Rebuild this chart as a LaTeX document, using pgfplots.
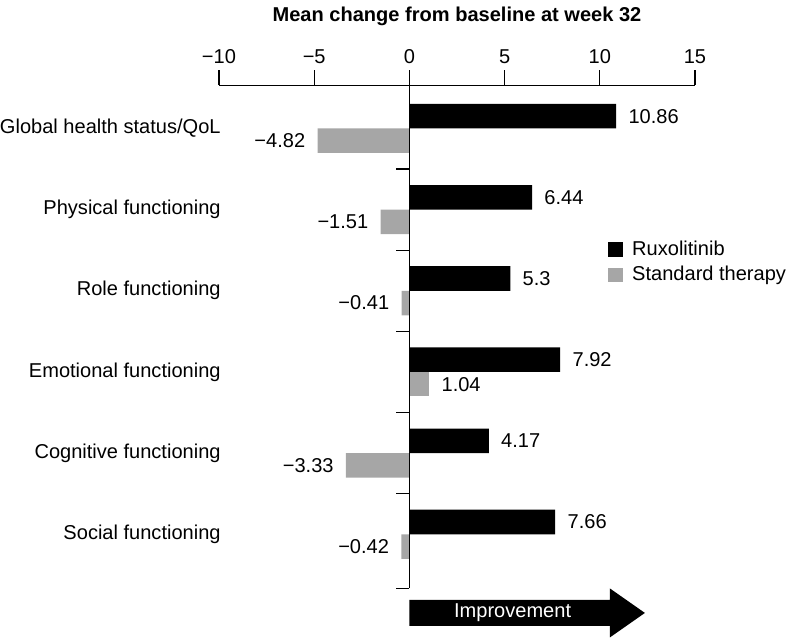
\documentclass[border=0pt]{standalone}
\usepackage{fontspec}
\setmainfont{Liberation Sans}
\usepackage{pgfplots}
\pgfplotsset{compat=1.18}
\definecolor{stdgray}{RGB}{166,166,166}
\begin{document}
\begin{tikzpicture}
\begin{axis}[
  width=237.5pt, height=251pt, scale only axis,
  xmin=-10, xmax=15, ymin=-0.667, ymax=5.531,
  axis x line*=top, axis y line*=left,
  x axis line style={-, line width=0.6pt},
  y axis line style={draw=none},
  xtick={-10,-5,0,5,10,15},
  xticklabels={−10,−5,0,5,10,15},
  ytick={0,1,2,3,4,5},
  yticklabels={Social functioning, Cognitive functioning, Emotional functioning, Role functioning, Physical functioning, Global health status/QoL},
  tick align=outside,
  major tick length=7.5pt,
  ytick style={draw=none},
  xtick style={black, line width=0.6pt},
  yticklabel style={inner xsep=0pt, xshift=8.5pt},
  title={\bfseries Mean change from baseline at week 32},
  title style={at={(0.5,1)}, anchor=base, yshift=26pt},
  xbar, bar width=12.25pt,
  point meta=explicit symbolic,
  nodes near coords,
  clip=false,
  legend style={at={(rel axis cs:0.8168,0.693)}, anchor=north west, draw=none, fill=none, inner sep=0pt,
    nodes={inner ysep=0pt, inner xsep=0pt, text height=7.5pt, text depth=2pt}, row sep=3pt},
  legend cell align=left,
]
\addplot[fill=black, draw=none, bar shift=6.125pt,
  nodes near coords style={anchor=west, inner xsep=6pt, inner ysep=0pt, black},
  legend image code/.code={\fill[black] (0pt,-3.6pt) rectangle (7.5pt,3.6pt); \path (12pt,0pt);}]
  coordinates {(10.86,5) [10.86] (6.44,4) [6.44] (5.3,3) [5.3] (7.92,2) [7.92] (4.17,1) [4.17] (7.66,0) [7.66]};
\addlegendentry{Ruxolitinib}
\addplot[fill=stdgray, draw=none, bar shift=-6.125pt,
  nodes near coords style={anchor=east, inner xsep=6pt, inner ysep=0pt, black},
  legend image code/.code={\fill[stdgray] (0pt,-3.6pt) rectangle (7.5pt,3.6pt); \path (12pt,0pt);}]
  coordinates {(-4.82,5) [−4.82] (-1.51,4) [−1.51] (-0.41,3) [−0.41] (-3.33,1) [−3.33] (-0.42,0) [−0.42]};
\addlegendentry{Standard therapy}
\addplot[fill=stdgray, draw=none, bar shift=-6.125pt, forget plot,
  nodes near coords style={anchor=west, inner xsep=6pt, inner ysep=0pt, black}]
  coordinates {(1.04,2) [1.04]};
\draw[line width=0.6pt] (axis cs:0,5.531) -- (axis cs:0,-0.667);
\pgfplotsinvokeforeach{4.5,3.5,2.5,1.5,0.5,-0.667}{\draw[line width=0.6pt] (axis cs:0,#1) -- ++(-6.5pt,0pt);}
\fill[black] ([yshift=-5.75pt]axis cs:0,-0.667) -- ++(100pt,0pt) -- ++(0pt,5.75pt) -- ++(17.5pt,-12.25pt) -- ++(-17.5pt,-12.25pt) -- ++(0pt,5.75pt) -- ++(-100pt,0pt) -- cycle;
\node[white, anchor=center] at ([xshift=51.5pt, yshift=-12pt]axis cs:0,-0.667) {Improvement};
\end{axis}
\end{tikzpicture}
\end{document}
